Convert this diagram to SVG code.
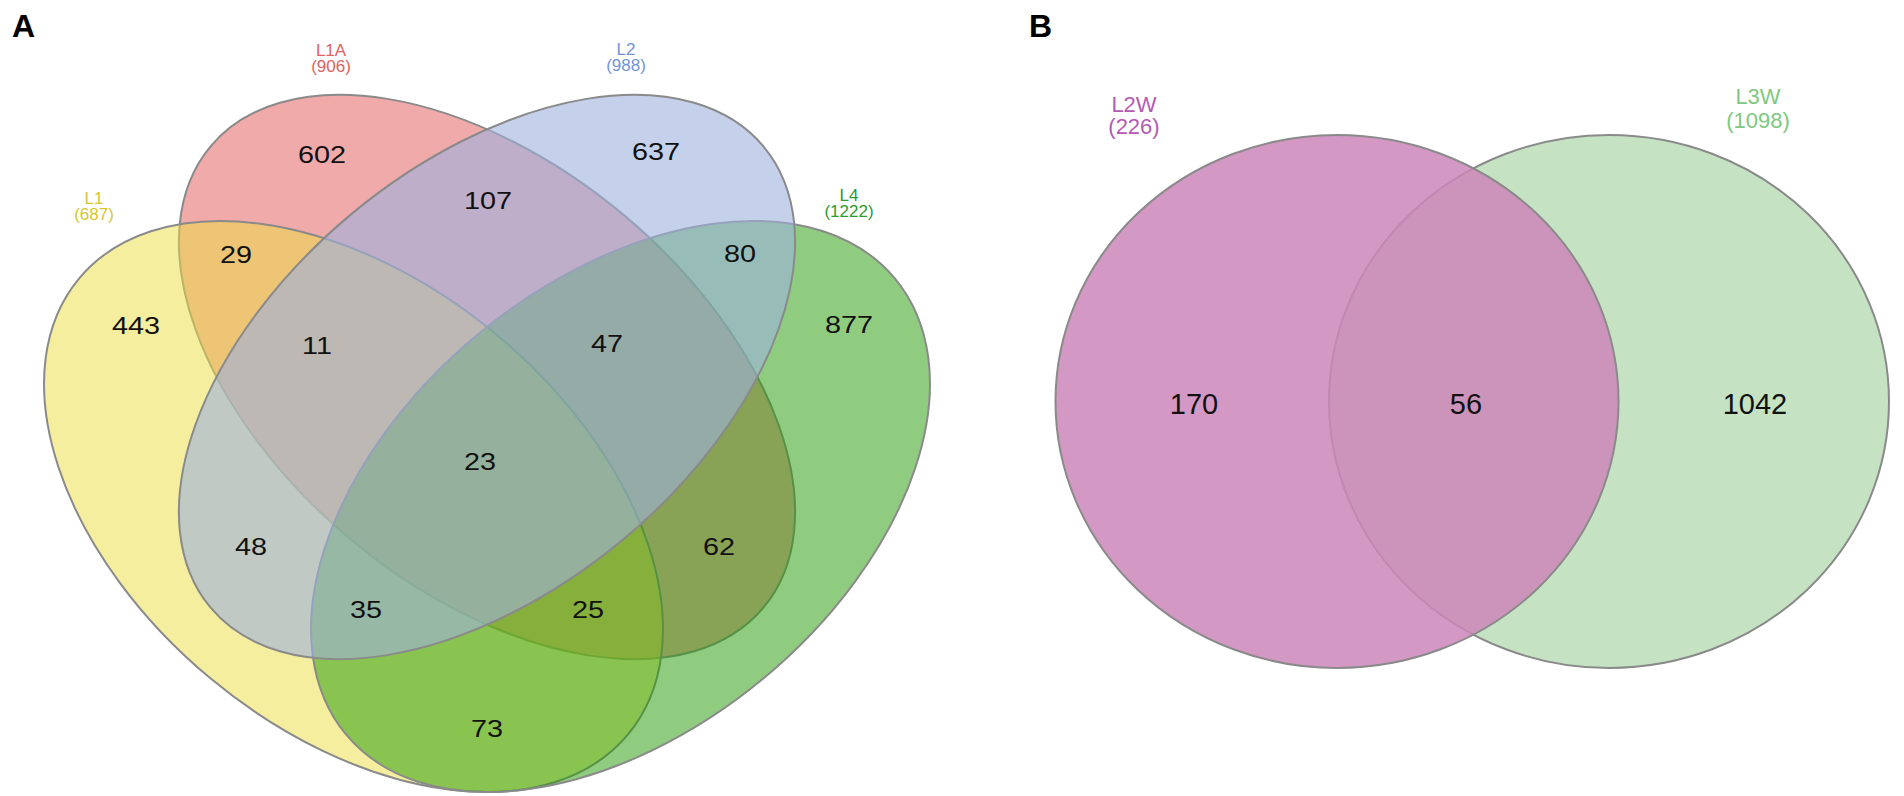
<svg xmlns="http://www.w3.org/2000/svg" width="1904" height="796" viewBox="0 0 1904 796">
<style>
.bg{fill:#ffffff}
.set{stroke:#8a8a8a;stroke-width:2}
.num{font-family:"Liberation Sans",Arial,sans-serif;font-size:24px;fill:#111;text-anchor:middle}
.numb{font-family:"Liberation Sans",Arial,sans-serif;font-size:29px;fill:#111;text-anchor:middle}
.lab{font-family:"Liberation Sans",Arial,sans-serif;font-size:17px;text-anchor:middle}
.labb{font-family:"Liberation Sans",Arial,sans-serif;font-size:22px;text-anchor:middle}
.panel{font-family:"Liberation Sans",Arial,sans-serif;font-size:32px;font-weight:bold;fill:#000}
</style>
<rect class="bg" x="0" y="0" width="1904" height="796"/>
<text class="panel" x="12" y="37">A</text>
<text class="panel" x="1029" y="37">B</text>
<g id="venn-A">
  <g id="set-L1A"><ellipse class="set" cx="487" cy="377" rx="360" ry="212" transform="rotate(39.8 487 377)" fill="#e15555" fill-opacity="0.5"/></g>
  <g id="set-L1"><ellipse class="set" cx="353.5" cy="506.5" rx="356.8" ry="223.6" transform="rotate(39.7 353.5 506.5)" fill="#ebdd3f" fill-opacity="0.5"/></g>
  <g id="set-L4"><ellipse class="set" cx="620.5" cy="506.5" rx="356.8" ry="223.6" transform="rotate(-39.7 620.5 506.5)" fill="#1f9901" fill-opacity="0.5"/></g>
  <g id="set-L2"><ellipse class="set" cx="487" cy="377" rx="360" ry="212" transform="rotate(-39.8 487 377)" fill="#9eb1de" fill-opacity="0.6"/></g>
</g>
<g id="labels-A">
  <text class="lab" fill="#e06262" x="331" y="56">L1A</text>
  <text class="lab" fill="#e06262" x="331" y="72">(906)</text>
  <text class="lab" fill="#7393d6" x="626" y="55">L2</text>
  <text class="lab" fill="#7393d6" x="626" y="71">(988)</text>
  <text class="lab" fill="#d6c62e" x="94" y="204">L1</text>
  <text class="lab" fill="#d6c62e" x="94" y="220">(687)</text>
  <text class="lab" fill="#2e9a2e" x="849" y="201">L4</text>
  <text class="lab" fill="#2e9a2e" x="849" y="217">(1222)</text>
</g>
<g id="counts-A">
  <text class="num" transform="translate(322 162.5) scale(1.2 1)">602</text>
  <text class="num" transform="translate(656 159.5) scale(1.2 1)">637</text>
  <text class="num" transform="translate(488 208.5) scale(1.2 1)">107</text>
  <text class="num" transform="translate(236 262.5) scale(1.2 1)">29</text>
  <text class="num" transform="translate(740 261.5) scale(1.2 1)">80</text>
  <text class="num" transform="translate(136 333.5) scale(1.2 1)">443</text>
  <text class="num" transform="translate(849 332.5) scale(1.2 1)">877</text>
  <text class="num" transform="translate(317 353.5) scale(1.2 1)">11</text>
  <text class="num" transform="translate(607 351.5) scale(1.2 1)">47</text>
  <text class="num" transform="translate(480 469.5) scale(1.2 1)">23</text>
  <text class="num" transform="translate(251 554.5) scale(1.2 1)">48</text>
  <text class="num" transform="translate(719 554.5) scale(1.2 1)">62</text>
  <text class="num" transform="translate(366 617.5) scale(1.2 1)">35</text>
  <text class="num" transform="translate(588 617.5) scale(1.2 1)">25</text>
  <text class="num" transform="translate(487 736.5) scale(1.2 1)">73</text>
</g>
<g id="venn-B">
  <g id="set-L3W"><ellipse class="set" cx="1609" cy="401.5" rx="280" ry="266.5" fill="#c5e3c2"/></g>
  <g id="set-L2W"><ellipse class="set" cx="1337" cy="401.5" rx="281.5" ry="266.5" fill="#cc86ba" fill-opacity="0.85"/></g>
</g>
<g id="labels-B">
  <text class="labb" fill="#b45ab4" x="1134" y="112">L2W</text>
  <text class="labb" fill="#b45ab4" x="1134" y="134">(226)</text>
  <text class="labb" fill="#80c880" x="1758" y="104">L3W</text>
  <text class="labb" fill="#80c880" x="1758" y="128">(1098)</text>
</g>
<g id="counts-B">
  <text class="numb" x="1194" y="414">170</text>
  <text class="numb" x="1466" y="414">56</text>
  <text class="numb" x="1755" y="414">1042</text>
</g>
</svg>
